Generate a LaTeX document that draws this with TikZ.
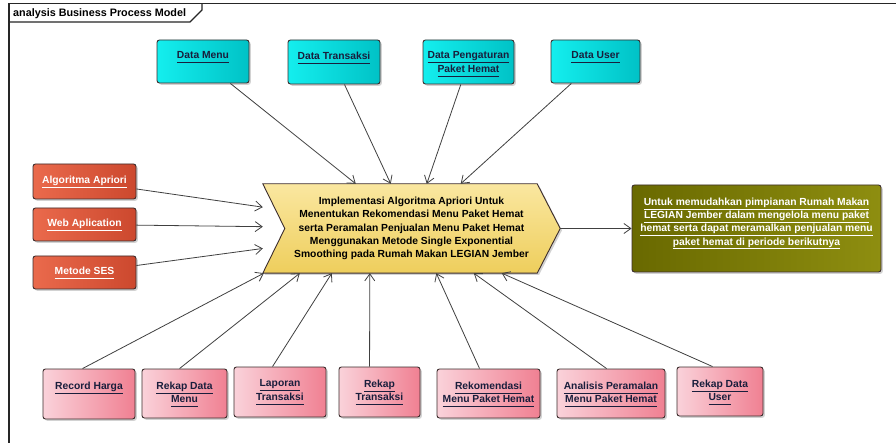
\documentclass[tikz,border=0pt]{standalone}
\usepackage{fontspec}
\setmainfont{Liberation Sans}
\usetikzlibrary{arrows.meta,shadows,calc}
\pgfdeclarelayer{bg}
\pgfsetlayers{bg,main}
\definecolor{bordc}{RGB}{60,45,45}
\definecolor{linec}{RGB}{64,64,64}
\definecolor{cyanL}{RGB}{20,238,238}
\definecolor{cyanR}{RGB}{0,194,198}
\definecolor{redL}{RGB}{234,106,76}
\definecolor{redR}{RGB}{204,72,46}
\definecolor{pinkL}{RGB}{250,210,218}
\definecolor{pinkR}{RGB}{240,128,146}
\definecolor{yelT}{RGB}{250,231,160}
\definecolor{yelB}{RGB}{238,206,92}
\definecolor{oliveL}{RGB}{105,105,0}
\definecolor{oliveR}{RGB}{142,142,16}
\definecolor{darktxt}{RGB}{25,30,60}
\newcommand{\ulin}[1]{\underline{#1\vphantom{g}}}
\begin{document}
\begin{tikzpicture}[x=1pt,y=-1pt,
  fnt/.style={font=\bfseries\fontsize{10.3}{13.3}\selectfont},
  frame/.style={draw=black!85, line width=1.2pt},
  box/.style={draw=bordc, line width=0.9pt, rounded corners=2.5pt, inner sep=0pt,
    drop shadow={shadow xshift=1.8pt, shadow yshift=-1.8pt, opacity=0.35}},
  cyanbox/.style={box, left color=cyanL, right color=cyanR},
  redbox/.style={box, left color=redL, right color=redR, fnt, text=white, align=center},
  pinkbox/.style={box, left color=pinkL, right color=pinkR},
  olivebox/.style={box, left color=oliveL, right color=oliveR},
  lbl/.style={fnt, align=center, inner sep=0pt, anchor=north},
  dlbl/.style={lbl, text=darktxt},
  wlbl/.style={lbl, text=white},
  arr/.style={draw=linec, line width=0.8pt, -{Straight Barb[length=7pt,width=10pt]}}
]
\useasboundingbox (0,0) rectangle (896,443);
\begin{pgfonlayer}{bg}
  \fill[white] (0,0) rectangle (896,443);
\end{pgfonlayer}

% frame
\draw[frame] (896,3.5) -- (9,3.5) -- (9,443);
\draw[frame] (9,22) -- (190,22) -- (202,10) -- (202,3.5);
\node[font=\bfseries\fontsize{10.8}{13}\selectfont, anchor=base west, inner sep=0pt] (title) at (13,16.5) {analysis Business Process Model};

% central process
\node[fnt, align=center, minimum width=297pt, minimum height=89pt, inner sep=0pt] (impl) at (411.5,228.5)
  {Implementasi Algoritma Apriori Untuk\\Menentukan Rekomendasi Menu Paket Hemat\\serta Peramalan Penjualan Menu Paket Hemat\\Menggunakan Metode Single Exponential\\Smoothing pada Rumah Makan LEGIAN Jember};
\begin{pgfonlayer}{bg}
  \path[draw=bordc, line width=0.9pt, top color=yelT, bottom color=yelB,
    drop shadow={shadow xshift=1.8pt, shadow yshift=-1.8pt, opacity=0.35}]
    (impl.north west) -- ([xshift=-23pt]impl.north east) -- (impl.east)
    -- ([xshift=-23pt]impl.south east) -- (impl.south west) -- ([xshift=22pt]impl.west) -- cycle;
\end{pgfonlayer}

% top data boxes
\node[cyanbox, minimum width=92pt, minimum height=43pt] (dmenu) at (203,61.5) {};
\node[dlbl] (dmenuT) at ([yshift=-12pt]dmenu.north) {\ulin{Data Menu}};
\node[cyanbox, minimum width=92pt, minimum height=44pt] (dtrans) at (334,62) {};
\node[dlbl] (dtransT) at ([yshift=-12pt]dtrans.north) {\ulin{Data Transaksi}};
\node[cyanbox, minimum width=91pt, minimum height=44pt] (dpeng) at (468.5,62) {};
\node[dlbl] (dpengT) at ([yshift=-12pt]dpeng.north) {\ulin{Data Pengaturan}\\\ulin{Paket Hemat}};
\node[cyanbox, minimum width=89pt, minimum height=43pt] (duser) at (595.5,61.5) {};
\node[dlbl] (duserT) at ([yshift=-12pt]duser.north) {\ulin{Data User}};

% left boxes
\node[redbox, minimum width=103pt, minimum height=35pt] (apri) at (84.5,181.5) {\ulin{Algoritma Apriori}};
\node[redbox, minimum width=103pt, minimum height=33pt] (web) at (84.5,224.5) {\ulin{Web Aplication}};
\node[redbox, minimum width=103pt, minimum height=33pt] (ses) at (84.5,272.5) {\ulin{Metode SES}};

% result
\node[olivebox, minimum width=249pt, minimum height=87pt] (result) at (756.5,228.5) {};
\node[wlbl] (resultT) at ([yshift=-13pt]result.north)
  {\ulin{Untuk memudahkan pimpianan Rumah Makan}\\\ulin{LEGIAN Jember dalam mengelola menu paket}\\\ulin{hemat serta dapat meramalkan penjualan menu}\\\ulin{paket hemat di periode berikutnya}};

% bottom boxes
\node[pinkbox, minimum width=92pt, minimum height=50pt] (rh) at (89,394) {};
\node[dlbl] (rhT) at ([yshift=-13pt]rh.north) {\ulin{Record Harga}};
\node[pinkbox, minimum width=85pt, minimum height=49pt] (rdm) at (184.5,393.5) {};
\node[dlbl] (rdmT) at ([yshift=-13pt]rdm.north) {\ulin{Rekap Data}\\\ulin{Menu}};
\node[pinkbox, minimum width=92pt, minimum height=50pt] (lt) at (280,392) {};
\node[dlbl] (ltT) at ([yshift=-13pt]lt.north) {\ulin{Laporan}\\\ulin{Transaksi}};
\node[pinkbox, minimum width=81pt, minimum height=50pt] (rt) at (379.5,392) {};
\node[dlbl] (rtT) at ([yshift=-13pt]rt.north) {\ulin{Rekap}\\\ulin{Transaksi}};
\node[pinkbox, minimum width=103pt, minimum height=49pt] (rmph) at (488.5,393.5) {};
\node[dlbl] (rmphT) at ([yshift=-13pt]rmph.north) {\ulin{Rekomendasi}\\\ulin{Menu Paket Hemat}};
\node[pinkbox, minimum width=108pt, minimum height=49pt] (apm) at (611,393.5) {};
\node[dlbl] (apmT) at ([yshift=-13pt]apm.north) {\ulin{Analisis Peramalan}\\\ulin{Menu Paket Hemat}};
\node[pinkbox, minimum width=86pt, minimum height=49pt] (rdu) at (720,391.5) {};
\node[dlbl] (rduT) at ([yshift=-13pt]rdu.north) {\ulin{Rekap Data}\\\ulin{User}};

% connectors
\draw[arr] (dmenu) -- (impl);
\draw[arr] (dtrans) -- (impl);
\draw[arr] (dpeng) -- (impl);
\draw[arr] (duser) -- (impl);
\draw[arr] (apri) -- (impl);
\draw[arr] (web) -- (impl);
\draw[arr] (ses) -- (impl);
\draw[arr] (impl) -- (result);
\draw[arr] ([xshift=40pt]rh.north west) -- ([xshift=1pt]impl.south west);
\draw[arr] ([xshift=38pt]rdm.north west) -- ([xshift=37pt]impl.south west);
\draw[arr] ([xshift=39pt]lt.north west) -- ([xshift=69pt]impl.south west);
\draw[arr] ([xshift=31pt]rt.north west) -- ([xshift=107pt]impl.south west);
\draw[arr] ([xshift=43pt]rmph.north west) -- ([xshift=173.5pt]impl.south west);
\draw[arr] ([xshift=50pt]apm.north west) -- ([xshift=211pt]impl.south west);
\draw[arr] ([xshift=36pt]rdu.north west) -- ([xshift=239pt]impl.south west);
\end{tikzpicture}
\end{document}
